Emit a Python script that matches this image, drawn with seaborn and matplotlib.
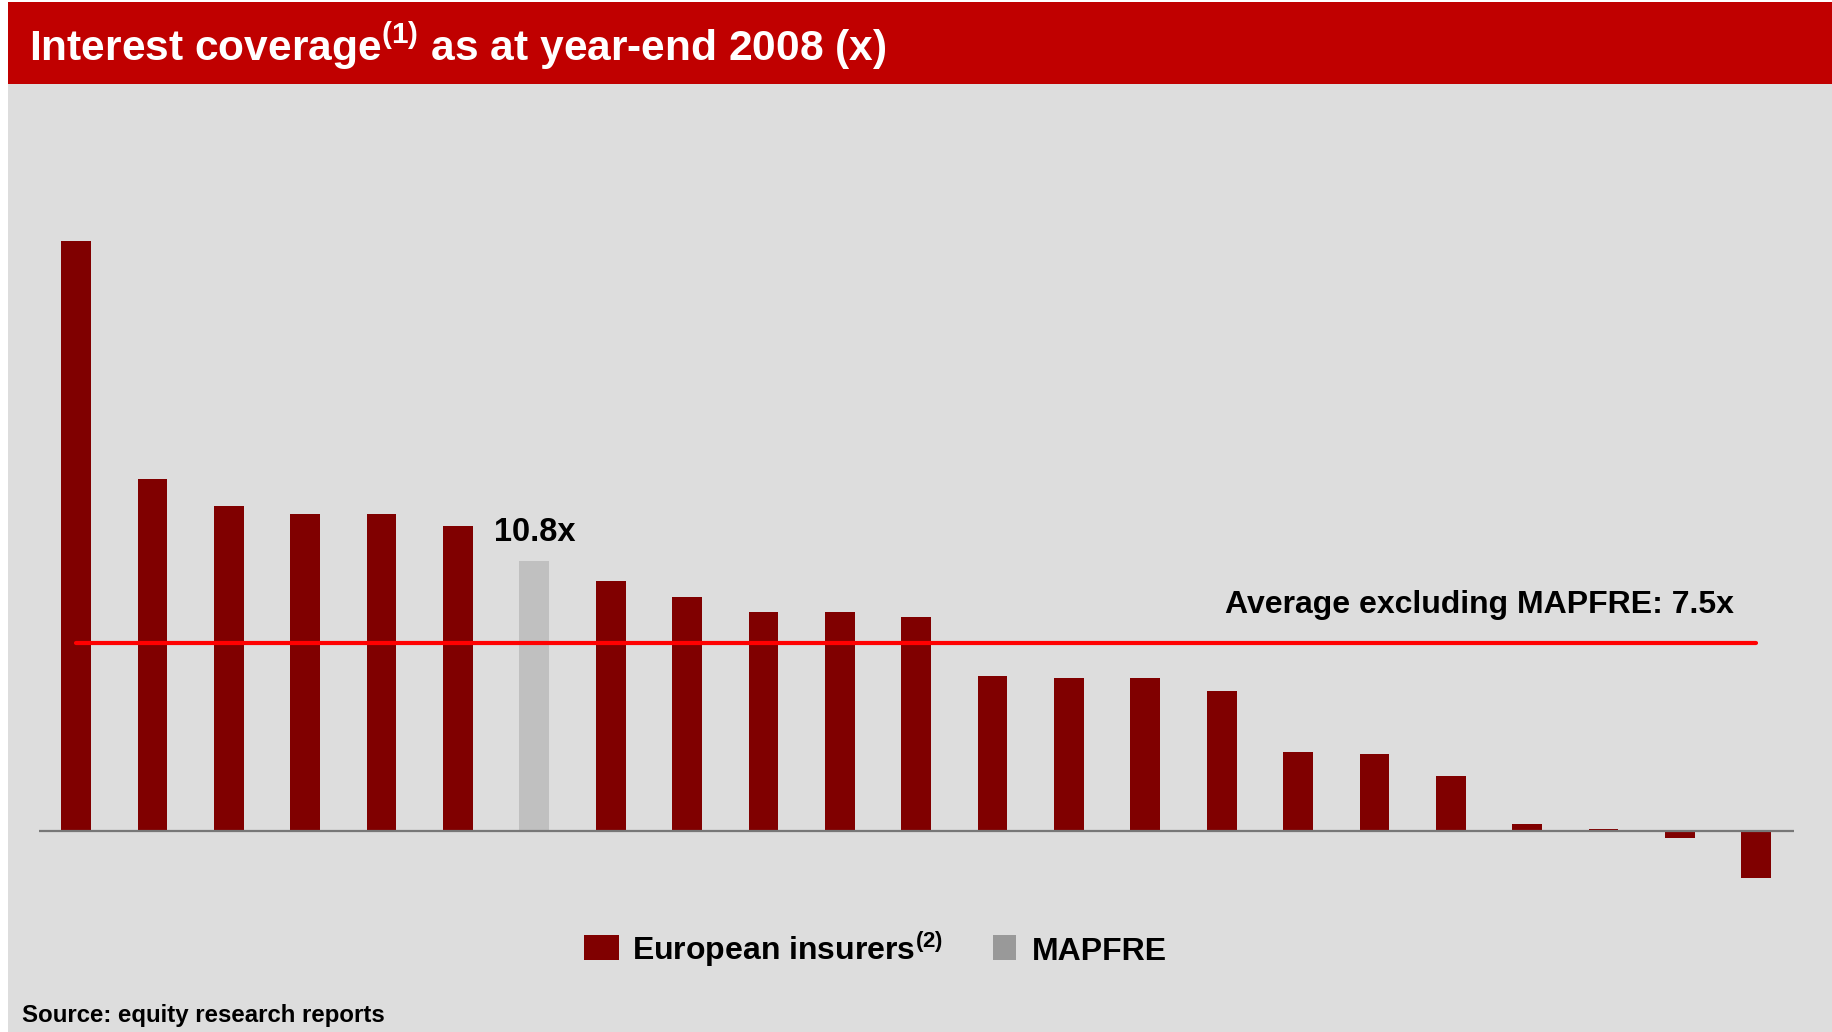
import matplotlib

matplotlib.use("Agg")
import matplotlib.pyplot as plt
from matplotlib.patches import Rectangle
import pandas as pd
import seaborn as sns

W, H = 1832, 1032

# one bar per insurer, ranked by interest coverage (x)
RANKS = list(range(1, 24))
COVERAGE = [23.6, 14.1, 13.0, 12.7, 12.7, 12.2, 10.8, 10.0, 9.35, 8.75, 8.75, 8.55,
            6.2, 6.1, 6.1, 5.6, 3.15, 3.07, 2.18, 0.26, 0.06, -0.3, -1.9]
GROUPS = ["European insurers"] * 6 + ["MAPFRE"] + ["European insurers"] * 16
AVERAGE_EX_MAPFRE = 7.5
MAPFRE_LABEL = "10.8x"

BAR_COLORS = {"European insurers": "#800000", "MAPFRE": "#C0C0C0"}
LEGEND_COLORS = {"European insurers": "#800000", "MAPFRE": "#999999"}


def fx(x):
    return x / W


def fy(y):
    return 1 - y / H


def main() -> None:
    sns.set_style("white")
    plt.rcParams["font.family"] = ["Liberation Sans", "DejaVu Sans"]
    plt.rcParams["text.color"] = "black"
    plt.rcParams["mathtext.fontset"] = "custom"
    plt.rcParams["mathtext.rm"] = "Liberation Sans"
    plt.rcParams["mathtext.bf"] = "Liberation Sans:bold"

    df = pd.DataFrame({"rank": RANKS, "coverage": COVERAGE, "group": GROUPS})

    fig = plt.figure(figsize=(W / 100, H / 100), dpi=100, facecolor="white")
    # grey panel and red title band, behind the axes
    fig.patches.append(Rectangle((fx(8), 0), 1 - fx(8), fy(84), transform=fig.transFigure,
                                 facecolor="#DDDDDD", edgecolor="none", zorder=-2))
    fig.patches.append(Rectangle((fx(8), fy(84)), 1 - fx(8), fy(2) - fy(84), transform=fig.transFigure,
                                 facecolor="#C00000", edgecolor="none", zorder=-2))
    fig.text(fx(29), fy(61), r"Interest coverage$^{\mathbf{(1)}}$ as at year-end 2008 (x)",
             color="white", fontsize=30.6, fontweight="bold", va="baseline")

    top_px, bottom_px, zero_px, px_per_unit = 100, 900, 830.7, 24.97
    ax = fig.add_axes([fx(38.6), fy(bottom_px), fx(1793.7) - fx(38.6), (bottom_px - top_px) / H])
    sns.barplot(data=df, x="rank", y="coverage", hue="group", palette=BAR_COLORS, dodge=False,
                width=0.39, saturation=1, linewidth=0, errorbar=None, legend=False, ax=ax)
    ax.set_xlim(-0.49, len(COVERAGE) - 1 + 0.49)
    ax.set_ylim((zero_px - bottom_px) / px_per_unit, (zero_px - top_px) / px_per_unit)
    ax.set_axis_off()

    ax.axhline(0, color="#777777", lw=1.6, zorder=3)
    ax.plot([0, len(COVERAGE) - 1], [AVERAGE_EX_MAPFRE] * 2, color="#FF0000", lw=3, zorder=4)

    idx = GROUPS.index("MAPFRE")
    ax.annotate(MAPFRE_LABEL, (idx, COVERAGE[idx]), xytext=(0, 14.5), textcoords="offset points",
                ha="center", va="baseline", fontsize=23.5, fontweight="bold", color="black")
    ax.annotate(f"Average excluding MAPFRE: {AVERAGE_EX_MAPFRE}x", (len(COVERAGE) - 1, AVERAGE_EX_MAPFRE),
                xytext=(-16, 21.6), textcoords="offset points",
                ha="right", va="baseline", fontsize=23, fontweight="bold", color="black")

    # legend drawn by hand (patches have different widths in the original)
    fig.patches.append(Rectangle((fx(584), fy(960)), fx(619) - fx(584), fy(935) - fy(960),
                                 transform=fig.transFigure, facecolor=LEGEND_COLORS["European insurers"],
                                 edgecolor="none"))
    fig.text(fx(632), fy(960), r"European insurers$^{\mathbf{(2)}}$", fontsize=23,
             fontweight="bold", va="baseline", color="black")
    fig.patches.append(Rectangle((fx(992.5), fy(960)), fx(1016) - fx(992.5), fy(935) - fy(960),
                                 transform=fig.transFigure, facecolor=LEGEND_COLORS["MAPFRE"],
                                 edgecolor="none"))
    fig.text(fx(1031.5), fy(960), "MAPFRE", fontsize=23, fontweight="bold", va="baseline", color="black")

    fig.text(fx(22), fy(1022), "Source: equity research reports", fontsize=17.3,
             fontweight="bold", va="baseline", color="black")

    fig.savefig("out.png", dpi=100)
    plt.close(fig)


if __name__ == "__main__":
    main()
